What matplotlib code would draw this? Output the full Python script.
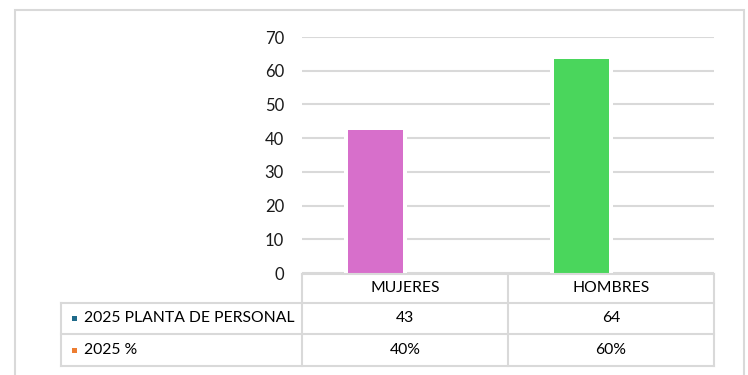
import matplotlib.pyplot as plt
from matplotlib.lines import Line2D
from matplotlib.patches import Rectangle
from matplotlib.transforms import blended_transform_factory

plt.rcParams['font.family'] = ['Lato', 'DejaVu Sans']

categorias = ["MUJERES", "HOMBRES"]
planta = [42.3, 63.4]
tabla_planta = ["43", "64"]
tabla_pct = ["40%", "60%"]
series = ["2025 PLANTA DE PERSONAL", "2025 %"]
colores_barras = ["#D76FCB", "#4AD65C"]
colores_series = ["#1F6A8A", "#ED7D31"]

W, H = 748, 375
fig = plt.figure(figsize=(W / 100, H / 100), dpi=100)

def fy(py):
    return 1 - py / H

def fx(px):
    return px / W

gris = "#D9D9D9"
fs = 11.3

# marco exterior
fig.add_artist(Rectangle((fx(15), fy(400)), fx(744) - fx(15), fy(10) - fy(400),
                         transform=fig.transFigure, fill=False, edgecolor=gris, lw=1.5))

ax = fig.add_axes([fx(302), fy(273), fx(714) - fx(302), fy(37) - fy(273)])
x = list(range(len(categorias)))
pos = [i - 0.143 for i in x]
ax.bar(pos, planta, width=0.267 + 0.04, color="white", zorder=2)
ax.bar(pos, planta, width=0.267, color=colores_barras, zorder=3)

ax.set_xlim(-0.5, len(categorias) - 0.5)
ax.set_ylim(0, 70)
ax.set_yticks(range(0, 71, 10))
ax.yaxis.grid(True, color=gris, lw=1.5, zorder=1)
ax.set_axisbelow(True)
ax.set_xticks([])
for s in ax.spines.values():
    s.set_visible(False)
ax.tick_params(axis="y", length=0, pad=13, labelsize=fs + 0.7, labelcolor="#1a1a1a")

# tabla de datos
tr = blended_transform_factory(ax.transData, fig.transFigure)
bordes = [-0.5 + i for i in range(len(categorias) + 1)]
y_head, y_r1, y_r2, y_r3 = fy(274), fy(302.7), fy(334), fy(366)

def linea(x0, x1, y0, y1, t):
    fig.add_artist(Line2D([x0, x1], [y0, y1], transform=t, color=gris, lw=1.5))

linea(bordes[0], bordes[-1], y_head, y_head, tr)
for b in bordes:
    linea(b, b, y_head, y_r3, tr)
xl = fx(61)
x1d = ax.transData.transform((bordes[-1], 0))[0] / W
for yy in [y_r1, y_r2, y_r3]:
    linea(xl, x1d, yy, yy, fig.transFigure)
linea(xl, xl, y_r1, y_r3, fig.transFigure)

for i, c in enumerate(categorias):
    t = fig.text(i, (y_head + y_r1) / 2, c, ha="center", va="center", fontsize=fs)
    t.set_transform(tr)

filas = [(tabla_planta, (y_r1 + y_r2) / 2), (tabla_pct, (y_r2 + y_r3) / 2)]
for k, (vals, yc) in enumerate(filas):
    for i, v in enumerate(vals):
        t = fig.text(i, yc, v, ha="center", va="center", fontsize=fs)
        t.set_transform(tr)
    fig.add_artist(Rectangle((fx(72), yc - 2.5 / H), 5 / W, 5 / H, transform=fig.transFigure,
                             color=colores_series[k], lw=0))
    fig.text(fx(84), yc, series[k], ha="left", va="center", fontsize=fs)

fig.savefig("out.png", dpi=100)
